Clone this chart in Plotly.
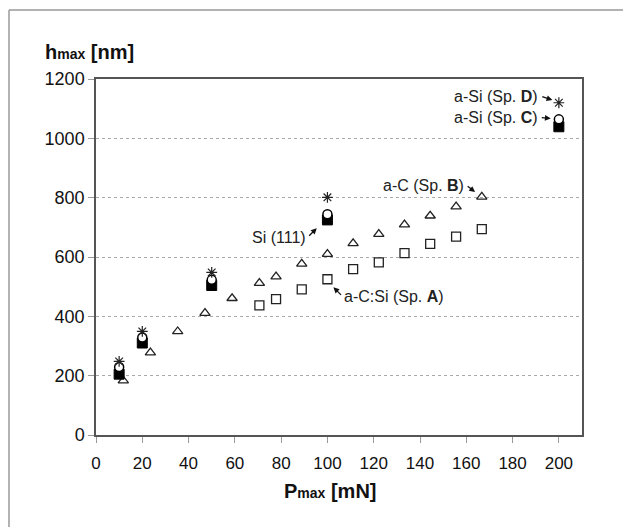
import plotly.graph_objects as go

# Data
x_A = [70.6, 77.8, 88.9, 100, 111.1, 122.2, 133.3, 144.4, 155.6, 166.7]
y_A = [437, 458, 491, 525, 559, 582, 613, 644, 669, 694]

x_B = [11.8, 23.5, 35.3, 47.1, 58.8, 70.6, 77.8, 88.9, 100, 111.1, 122.2, 133.3, 144.4, 155.6, 166.7]
y_B = [183, 278, 349, 411, 461, 512, 534, 577, 610, 646, 677, 709, 739, 770, 803]

x_Si = [10, 20, 50, 100, 200]
y_Si = [205, 310, 504, 725, 1039]

x_C = [10, 20, 50, 100, 200]
y_C = [229, 329, 523, 744, 1064]

x_D = [10, 20, 50, 100, 200]
y_D = [248, 349, 548, 801, 1120]

x_ticks = [0, 20, 40, 60, 80, 100, 120, 140, 160, 180, 200]
y_ticks = [0, 200, 400, 600, 800, 1000, 1200]

FONT = "Liberation Sans, Arial, sans-serif"

fig = go.Figure()
fig.add_trace(go.Scatter(x=x_A, y=y_A, mode="markers", name="a-C:Si (Sp. A)",
                         marker=dict(symbol="square-open", size=9, color="#222",
                                     line=dict(width=1.3, color="#222"))))
fig.add_trace(go.Scatter(x=x_B, y=y_B, mode="markers", name="a-C (Sp. B)",
                         marker=dict(symbol="triangle-up-open", size=9, color="#222",
                                     line=dict(width=1.3, color="#222"))))
fig.add_trace(go.Scatter(x=x_Si, y=y_Si, mode="markers", name="Si (111)",
                         marker=dict(symbol="square", size=10, color="#000",
                                     line=dict(width=1, color="#000"))))
fig.add_trace(go.Scatter(x=x_C, y=y_C, mode="markers", name="a-Si (Sp. C)",
                         marker=dict(symbol="circle", size=9, color="white",
                                     line=dict(width=1.5, color="#000"))))
fig.add_trace(go.Scatter(x=x_D, y=y_D, mode="markers", name="a-Si (Sp. D)",
                         marker=dict(symbol="asterisk-open", size=9, color="#222",
                                     line=dict(width=1.2, color="#222"))))

ann_font = dict(family=FONT, size=16, color="#222")
annotations = [
    dict(x=197.2, y=1129, ax=-12, ay=-4, text="a-Si (Sp. <b>D</b>)", xanchor="right"),
    dict(x=196.5, y=1067, ax=-11, ay=-1, text="a-Si (Sp. <b>C</b>)", xanchor="right"),
    dict(x=163.8, y=819, ax=-9, ay=-7, text="a-C (Sp. <b>B</b>)", xanchor="right"),
    dict(x=95.4, y=697, ax=-9, ay=9, text="Si (111)", xanchor="right"),
    dict(x=102.6, y=498, ax=9, ay=9, text="a-C:Si (Sp. <b>A</b>)", xanchor="left"),
]
for a in annotations:
    fig.add_annotation(x=a["x"], y=a["y"], ax=a["ax"], ay=a["ay"], text=a["text"],
                       showarrow=True, arrowhead=2, arrowsize=0.9, arrowwidth=1.3,
                       arrowcolor="#111", standoff=0, startstandoff=2,
                       xanchor=a["xanchor"], yanchor="middle", font=ann_font)

# Axis titles
fig.add_annotation(xref="paper", yref="paper", x=-0.109, y=1.076, xanchor="left", yanchor="middle",
                   text="<b>h<span style='font-size:14px'>max</span> [nm]</b>", showarrow=False,
                   font=dict(family=FONT, size=20, color="#111"))
fig.add_annotation(xref="paper", yref="paper", x=0.481, y=-0.157, xanchor="center", yanchor="middle",
                   text="<b>P<span style='font-size:14px'>max</span> [mN]</b>", showarrow=False,
                   font=dict(family=FONT, size=20, color="#111"))

# Outer frame
fig.add_shape(type="line", xref="paper", yref="paper", x0=-0.179, x1=1.2, y0=1.194, y1=1.194,
              line=dict(color="#999", width=1.5))
fig.add_shape(type="line", xref="paper", yref="paper", x0=-0.179, x1=-0.179, y0=1.194, y1=-0.3,
              line=dict(color="#999", width=1.5))

fig.update_layout(
    width=623, height=527,
    margin=dict(l=96, r=41, t=79, b=92),
    paper_bgcolor="white", plot_bgcolor="white",
    showlegend=False,
    font=dict(family=FONT, size=17, color="#111"),
    xaxis=dict(range=[0, 210], tickvals=x_ticks, ticks="outside", ticklen=6, tickcolor="#999",
               showline=True, linecolor="#555", linewidth=1.5, mirror=True,
               showgrid=False, zeroline=False, tickfont=dict(size=17), ticklabelstandoff=6),
    yaxis=dict(range=[0, 1200], tickvals=y_ticks, ticks="outside", ticklen=6, tickcolor="#999",
               showline=True, linecolor="#555", linewidth=1.5, mirror=True,
               showgrid=True, gridcolor="#aaa", griddash="dot", gridwidth=1,
               zeroline=False, tickfont=dict(size=18)),
)

fig.write_html("out.html", config={"displayModeBar": False},
               post_script=("document.body.style.margin='0';"
                            "document.body.style.overflow='hidden';"
                            "document.documentElement.style.overflow='hidden';"))
